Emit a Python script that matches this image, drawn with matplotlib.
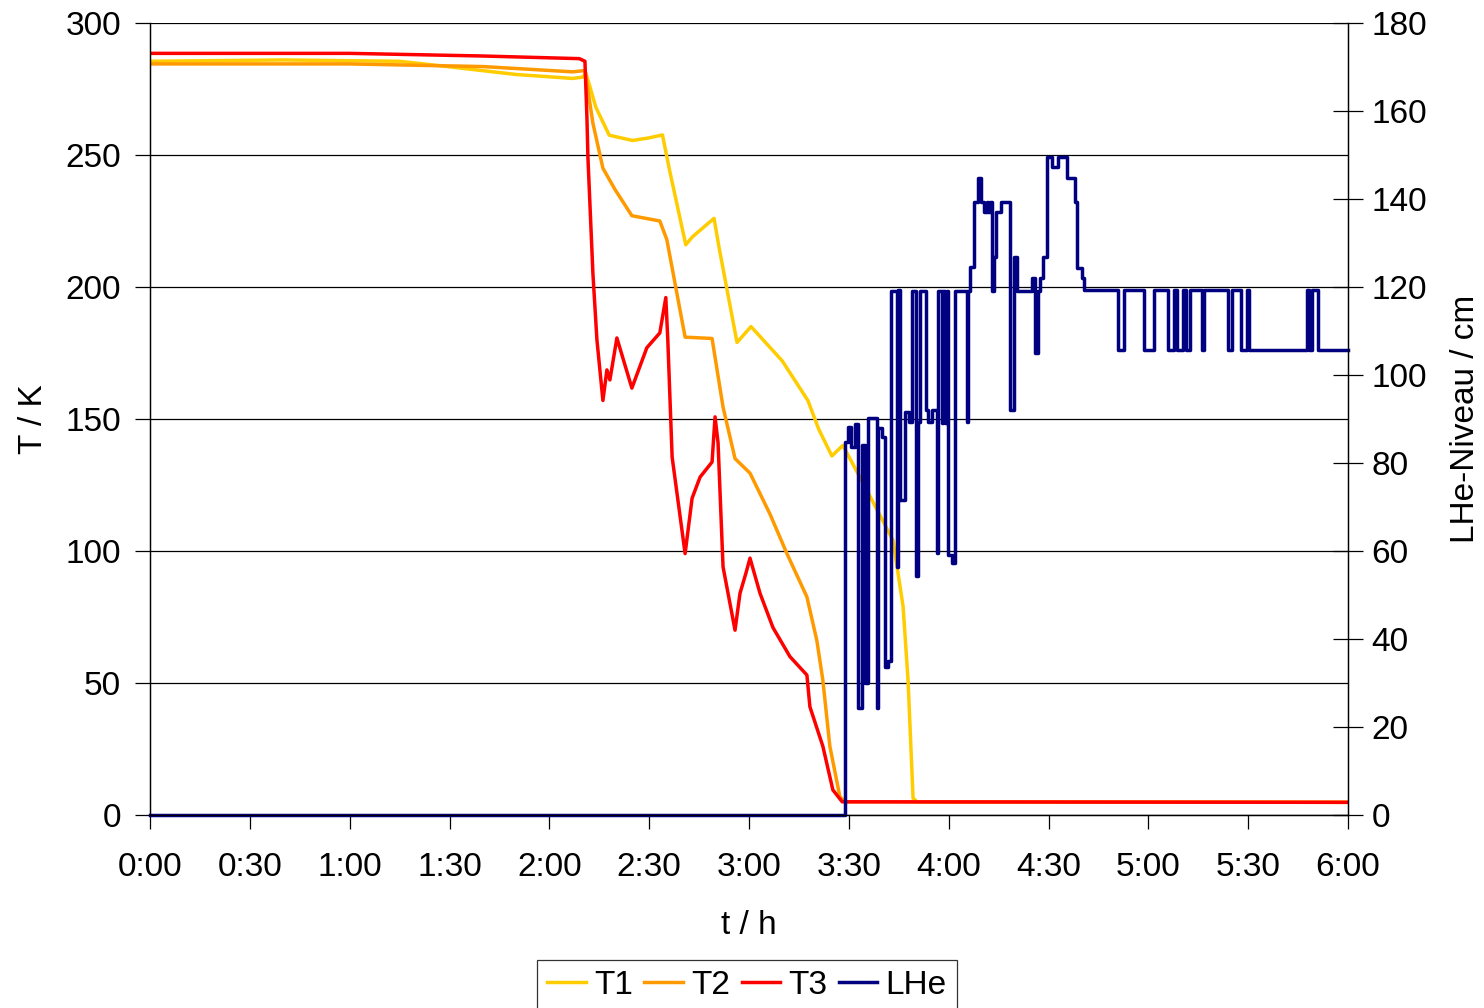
import matplotlib
matplotlib.use("Agg")
import matplotlib.pyplot as plt
from matplotlib.ticker import MultipleLocator, FuncFormatter

plt.rcParams["font.family"] = ["Liberation Sans", "DejaVu Sans"]

# time in minutes, temperature in K
t1_time = [0, 40, 75, 90, 110, 127, 130, 131, 134, 138, 145, 150, 154, 156, 161,
           163, 169.5, 171, 176.4, 180.6, 190, 197.7, 201, 204.9, 208.2, 215,
           223.3, 226.3, 227.8, 229.3, 230.5, 360]
t1_temp = [285.5, 286, 285.5, 283.4, 280.5, 279, 279.5, 281, 268, 257.5, 255.5,
           256.5, 257.6, 245, 216, 219, 226, 215, 179, 185, 172, 157, 146, 136,
           140, 124, 104, 79, 51, 6.4, 5, 4.8]

t2_time = [0, 60, 100, 127, 130.7, 133.1, 136.1, 139.7, 144.8, 153.2, 155.3, 160.8,
           168.9, 172.2, 175.8, 180.3, 186.3, 191.4, 197.4, 200.4, 202.2, 204.3,
           207.3, 208.8, 360]
t2_temp = [284.5, 284.5, 283.5, 281.5, 282, 262, 245, 237, 227, 225, 218, 181,
           180.5, 154.5, 135, 129.5, 114, 99, 82.6, 66, 51, 26, 7, 5, 4.8]

t3_time = [0, 60, 100, 129, 130.7, 131.3, 131.6, 133.1, 134.3, 136.1, 137.3, 138.2,
           140.3, 144.8, 149.3, 153.2, 155.0, 155.6, 156.9, 160.8, 162.9, 165.3,
           168.9, 169.8, 170.7, 172.2, 175.8, 177.3, 179.1, 180.3, 183.3, 187.2,
           192.3, 197.4, 198.3, 202.2, 205.2, 208.0, 360]
t3_temp = [288.5, 288.5, 287.5, 286.5, 285.5, 264, 249, 205, 180, 157, 168.6, 164.8,
           180.7, 161.7, 177, 182.6, 196, 180, 135.6, 99, 120, 128, 133.7, 150.8,
           141, 94, 70, 84, 91.7, 97.3, 84, 71, 60, 53, 41, 26, 9.5, 5, 4.8]

# LHe level in cm (step data)
lhe_time = [0, 208.8, 209.8, 210.8, 211.8, 212.8, 213.9, 214.8, 215.8, 218.4, 218.9,
            219.9, 220.9, 221.9, 222.7, 224.4, 224.9, 225.4, 226.9, 228.2, 228.9,
            230.2, 230.9, 231.4, 233.2, 233.9, 234.9, 236.4, 236.9, 237.9, 238.4,
            238.9, 239.4, 239.9, 240.9, 241.9, 245.4, 245.9, 246.4, 247.6, 248.9,
            249.6, 250.6, 251.4, 251.9, 252.4, 252.9, 253.6, 254.2, 255.6, 258.4,
            259.7, 260.4, 264.9, 265.9, 266.9, 267.4, 268.4, 269.6, 271.2, 272.9,
            275.6, 277.9, 278.6, 280.0, 280.6, 290.8, 292.8, 298.8, 301.8, 305.8,
            307.8, 308.5, 310.5, 311.2, 312.5, 316.0, 316.8, 323.8, 325.0, 327.8,
            329.5, 330.2, 347.6, 348.3, 349.1, 350.9, 360]
lhe_level = [0, 84.8, 88.2, 83.7, 88.9, 24.3, 84, 30, 90.2, 24.3, 88,
             86, 33.6, 35, 119, 56.4, 119.3, 71.6, 91.7, 89.4, 119,
             54.3, 89.4, 119, 92, 89.4, 92, 59.5, 119, 89, 119,
             89, 119, 59, 57.2, 119, 89.4, 119, 124.5, 139.4, 144.7,
             139.4, 137.1, 139.4, 137.1, 139.4, 119, 126.9, 137.1, 139.4, 92,
             126.9, 119, 122, 105, 119, 122, 126.9, 149.6, 147.3, 149.6,
             144.7, 139.4, 124.3, 122, 119.3, 105.7, 119.3, 105.7, 119.3, 105.7,
             119.3, 105.7, 119.3, 105.7, 119.3, 105.7, 119.3, 105.7, 119.3, 105.7,
             119.3, 105.7, 119.3, 105.7, 119.3, 105.7, 105.7]

FS = 24

fig = plt.figure(figsize=(14.84, 10.08), dpi=100)
ax = fig.add_axes([150 / 1484, 1 - 815 / 1008, 1198 / 1484, 792 / 1008])
ax2 = ax.twinx()

l1, = ax.plot(t1_time, t1_temp, color="#FFCC00", lw=2.5, label="T1")
l2, = ax.plot(t2_time, t2_temp, color="#FF9900", lw=2.5, label="T2")
l3, = ax.plot(t3_time, t3_temp, color="#FF0000", lw=2.5, label="T3")
l4, = ax2.plot(lhe_time, lhe_level, color="#000080", lw=2.5, label="LHe",
               drawstyle="steps-post", clip_on=False)

ax.set_xlim(0, 360)
ax.set_ylim(0, 300)
ax2.set_ylim(0, 180)

ax.xaxis.set_major_locator(MultipleLocator(30))
ax.xaxis.set_major_formatter(FuncFormatter(lambda v, p: "%d:%02d" % (int(v) // 60, int(v) % 60)))
ax.yaxis.set_major_locator(MultipleLocator(50))
ax2.yaxis.set_major_locator(MultipleLocator(20))

ax.grid(axis="y", color="black", lw=0.9)
ax.set_axisbelow(True)

for a in (ax, ax2):
    for s in a.spines.values():
        s.set_linewidth(0.9)
        s.set_color("black")
    a.spines["top"].set_visible(False)

ax.tick_params(axis="x", direction="out", length=10, width=0.9, labelsize=FS, pad=17)
ax.tick_params(axis="y", direction="out", length=11, width=0.9, labelsize=FS, pad=10)
ax2.tick_params(axis="y", direction="inout", length=22, width=0.9, labelsize=FS, pad=6)

fig.text(33 / 1484, 1 - 419 / 1008, "T / K", rotation=90, ha="center", va="center", fontsize=FS)
fig.text(1466 / 1484, 1 - 419 / 1008, "LHe-Niveau / cm", rotation=90, ha="center",
         va="center", fontsize=FS)
fig.text(749 / 1484, 1 - 925 / 1008, "t / h", ha="center", va="center", fontsize=FS)

leg = fig.legend(handles=[l1, l2, l3, l4], loc="upper center", ncol=4,
                 bbox_to_anchor=(747 / 1484, 1 - 960 / 1008), fontsize=FS,
                 frameon=True, fancybox=False, edgecolor="black",
                 handlelength=1.15, handletextpad=0.25, columnspacing=0.35,
                 borderpad=0.3, borderaxespad=0)
leg.get_frame().set_linewidth(0.9)

fig.savefig("out.png", dpi=100)
